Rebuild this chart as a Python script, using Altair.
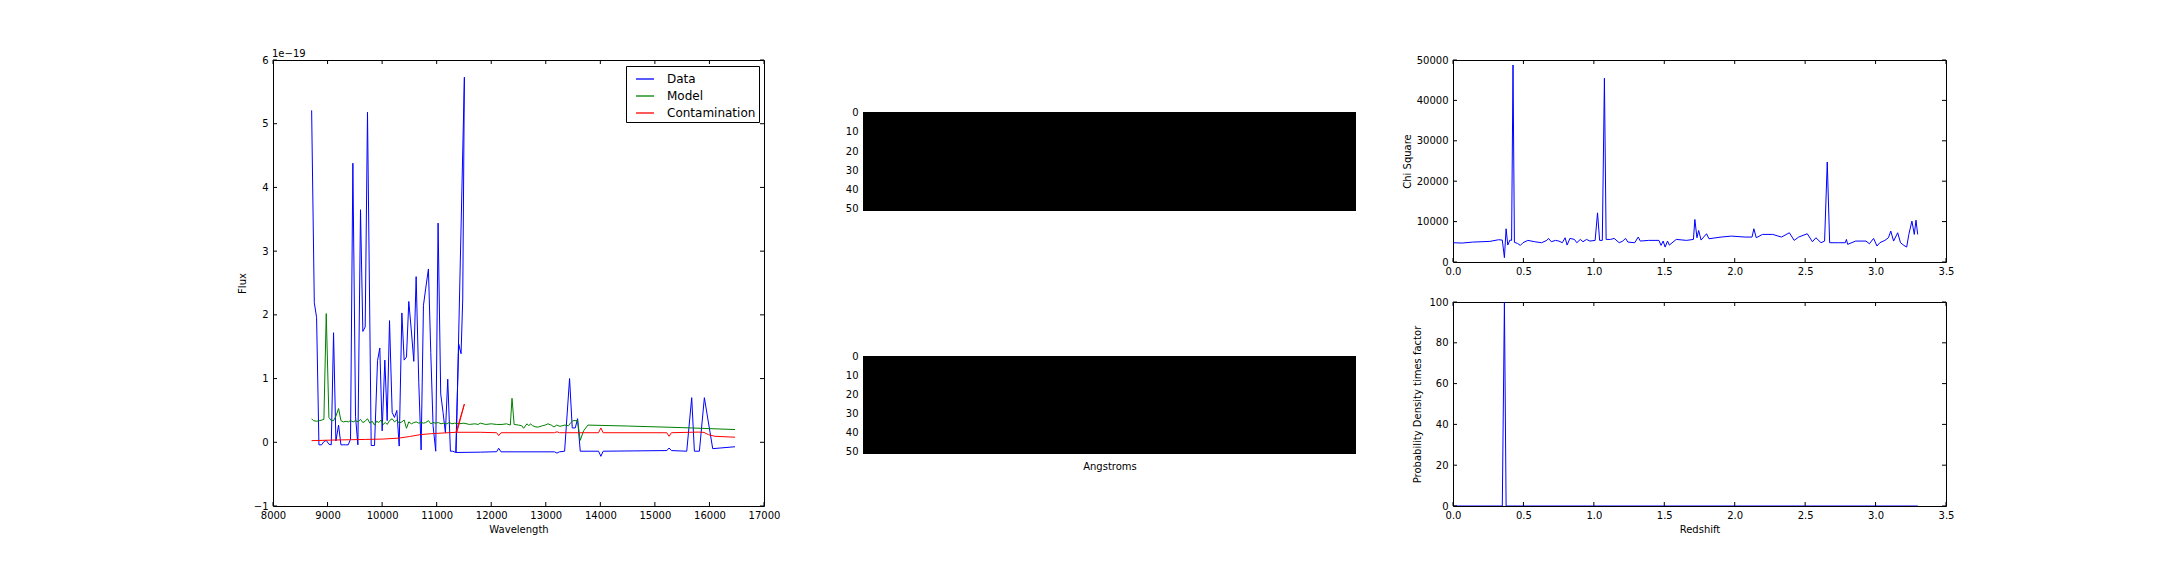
import altair as alt
import pandas as pd

FONT = "DejaVu Sans"

# ---------------- Panel 1: spectrum (drawing order kept) ----------------
DATA_POINTS = [
    (8708, 5.21), (8757, 2.19), (8799, 1.96), (8842, -0.04), (8891, -0.04), (8933, 0.01),
    (8976, 0.03), (9025, -0.03), (9068, -0.04), (9110, 1.72), (9153, 0.02), (9202, 0.27),
    (9245, -0.04), (9287, -0.04), (9330, -0.04), (9379, -0.04), (9421, 0.05), (9464, 4.38),
    (9513, 0.40), (9556, -0.04), (9604, 3.65), (9647, 1.74), (9690, 1.81), (9732, 5.18),
    (9800, -0.05), (9861, -0.05), (9916, 1.28), (9958, 1.48), (10001, 0.18), (10050, 1.29),
    (10093, 0.34), (10136, 1.91), (10184, 0.47), (10227, 0.39), (10270, 0.50), (10313, -0.06),
    (10362, 2.03), (10404, 1.29), (10447, 1.34), (10489, 2.21), (10538, 1.73), (10581, 1.27),
    (10624, 2.60), (10672, 0.94), (10715, -0.12), (10758, 2.15), (10800, 2.42), (10849, 2.72),
    (10892, 1.41), (10934, 0.26), (10983, -0.14), (11026, 3.44), (11074, 0.76), (11117, 0.47),
    (11160, 0.15), (11203, 0.99), (11252, -0.14), (11294, -0.14), (11350, -0.16), (11404, 1.54),
    (11447, 1.39), (11478, 2.25), (11508, 5.73), (11356, -0.16), (11800, -0.155), (12100, -0.148),
    (12137, -0.094), (12180, -0.15), (13160, -0.15), (13205, -0.17), (13250, -0.15), (13345, -0.14),
    (13436, 1.00), (13485, 0.225), (13540, 0.225), (13583, 0.37), (13632, -0.14), (13967, -0.14),
    (14010, -0.22), (14052, -0.14), (15218, -0.13), (15260, -0.09), (15303, -0.13), (15584, -0.14),
    (15675, 0.70), (15724, -0.14), (15816, -0.14), (15907, 0.70), (16060, -0.10), (16469, -0.07),
]

MODEL_POINTS = [
    (8708, 0.37), (8740, 0.34), (8800, 0.33), (8860, 0.34), (8933, 0.36), (8976, 2.02),
    (9025, 0.39), (9068, 0.34), (9110, 0.34), (9153, 0.41), (9202, 0.53), (9245, 0.34),
    (9290, 0.32), (9340, 0.33), (9380, 0.32), (9421, 0.34), (9470, 0.32), (9513, 0.34),
    (9560, 0.32), (9604, 0.36), (9647, 0.31), (9690, 0.33), (9732, 0.37), (9775, 0.30),
    (9820, 0.33), (9861, 0.27), (9900, 0.33), (9940, 0.31), (9980, 0.35), (10020, 0.28),
    (10060, 0.31), (10093, 0.28), (10136, 0.34), (10184, 0.37), (10227, 0.32), (10270, 0.35),
    (10313, 0.30), (10362, 0.32), (10404, 0.35), (10447, 0.22), (10489, 0.32), (10538, 0.29),
    (10581, 0.31), (10624, 0.32), (10672, 0.30), (10715, 0.31), (10760, 0.30), (10800, 0.31),
    (10849, 0.34), (10892, 0.29), (10934, 0.31), (10983, 0.30), (11030, 0.31), (11080, 0.29),
    (11130, 0.30), (11180, 0.29), (11230, 0.31), (11280, 0.29), (11330, 0.30), (11400, 0.29),
    (11500, 0.30), (11600, 0.28), (11700, 0.29), (11760, 0.28), (11800, 0.30), (11900, 0.28),
    (12000, 0.29), (12100, 0.28), (12200, 0.28), (12280, 0.29), (12350, 0.27), (12381, 0.69),
    (12420, 0.28), (12500, 0.27), (12560, 0.26), (12594, 0.22), (12655, 0.29), (12690, 0.26),
    (12720, 0.29), (12760, 0.26), (12820, 0.24), (12869, 0.24), (12940, 0.26), (12990, 0.27),
    (13040, 0.29), (13100, 0.27), (13150, 0.24), (13200, 0.27), (13260, 0.25), (13300, 0.26),
    (13350, 0.27), (13418, 0.26), (13450, 0.30), (13500, 0.34), (13583, 0.34), (13632, 0.03),
    (13693, 0.18), (13772, 0.27), (14500, 0.255), (15500, 0.23), (16469, 0.20),
]

CONTAM_POINTS = [
    (8708, 0.026), (8900, 0.03), (9100, 0.035), (9400, 0.04), (9700, 0.045), (10000, 0.05),
    (10300, 0.065), (10500, 0.09), (10700, 0.12), (10900, 0.135), (11100, 0.145), (11356, 0.157),
    (11508, 0.60), (11370, 0.157), (11800, 0.157), (12100, 0.15), (12137, 0.105), (12180, 0.15),
    (13160, 0.15), (13205, 0.165), (13250, 0.15), (13967, 0.15), (14010, 0.225), (14052, 0.15),
    (15218, 0.15), (15260, 0.094), (15303, 0.15), (15800, 0.16), (15900, 0.155), (15980, 0.12),
    (16102, 0.094), (16469, 0.08),
]

SERIES_NAMES = ["Data", "Model", "Contamination"]
SERIES_COLORS = ["#0000ff", "#008000", "#ff0000"]
WAVE_TICKS = [8000, 9000, 10000, 11000, 12000, 13000, 14000, 15000, 16000, 17000]
FLUX_TICKS = [-1, 0, 1, 2, 3, 4, 5, 6]
OFFSET_TEXT = ["1e\u221219"]

# ---------------- Images (2D spectra, all black) ----------------
IMG_ROWS = 52
IMG_COLS = 150
IMG_VALUE = [0]
IMG_YTICKS = [0, 10, 20, 30, 40, 50]

# ---------------- Chi square vs redshift ----------------
CHI_Z = [0.0, 0.066, 0.14, 0.262, 0.323, 0.35, 0.365, 0.377, 0.389, 0.404, 0.416, 0.426, 0.436,
         0.458, 0.478, 0.497, 0.531, 0.58, 0.629, 0.666, 0.678, 0.698, 0.727, 0.752, 0.776, 0.796,
         0.81, 0.83, 0.862, 0.879, 0.904, 0.923, 0.948, 0.972, 1.009, 1.026, 1.041, 1.06, 1.075,
         1.087, 1.119, 1.144, 1.18, 1.205, 1.225, 1.242, 1.29, 1.315, 1.33, 1.389, 1.462, 1.477,
         1.492, 1.506, 1.523, 1.536, 1.585, 1.658, 1.707, 1.717, 1.732, 1.744, 1.761, 1.8, 1.817,
         1.903, 1.976, 2.074, 2.123, 2.136, 2.153, 2.197, 2.27, 2.332, 2.388, 2.422, 2.454, 2.515,
         2.552, 2.576, 2.613, 2.638, 2.657, 2.674, 2.736, 2.785, 2.793, 2.802, 2.858, 2.932, 2.956,
         2.986, 3.01, 3.03, 3.066, 3.091, 3.108, 3.128, 3.157, 3.177, 3.201, 3.221, 3.236, 3.258,
         3.275, 3.287, 3.299]
CHI_VAL = [4770, 4690, 4930, 5100, 5510, 5430, 1070, 8220, 4190, 5430, 5350, 48770, 4850,
           4600, 4110, 4770, 5350, 5020, 4770, 5350, 5840, 5020, 5350, 5180, 4770, 6000,
           4190, 5840, 5590, 4770, 5590, 5020, 5590, 5180, 5350, 12170, 5350, 5350, 45480,
           5590, 5590, 5840, 4770, 5180, 5840, 4930, 4770, 6170, 5180, 5350, 5350, 4110,
           5180, 3700, 5180, 4190, 5590, 5350, 5590, 10530, 6000, 7810, 5430, 6990, 5760,
           6170, 6410, 6170, 6170, 8220, 6000, 6830, 6830, 6170, 7240, 5350, 6170, 6990,
           5020, 6000, 4770, 5180, 24750, 4770, 4770, 4770, 5590, 4360, 5180, 5180, 4520,
           5840, 3950, 4770, 5350, 6000, 7650, 5180, 7240, 4770, 4110, 3700, 6830, 10120,
           6830, 10360, 6830]

PDF_Z = [0.0, 0.35, 0.365, 0.377, 3.30]
PDF_VAL = [0, 0, 100, 0, 0]

Z_TICKS = [0.0, 0.5, 1.0, 1.5, 2.0, 2.5, 3.0, 3.5]
CHI_TICKS = [0, 10000, 20000, 30000, 40000, 50000]
PDF_TICKS = [0, 20, 40, 60, 80, 100]


def axis(values, title, fmt, title_pad, label_pad=5):
    return alt.Axis(values=values, title=title, format=fmt, ticks=False, domain=False,
                    grid=False, labelPadding=label_pad, titlePadding=title_pad,
                    labelFont=FONT, titleFont=FONT, labelFontSize=10, titleFontSize=10,
                    titleFontWeight="normal", labelColor="black", titleColor="black",
                    labelFlush=False, labelOverlap=False)


def inner_ticks(fx, xvals, xscale, xaxis, fy, yvals, yscale, yaxis, W, H, L=4):
    dx = pd.DataFrame({fx: xvals})
    dy = pd.DataFrame({fy: yvals})
    out = []
    for a, b in ((H, H - L), (0, L)):
        out.append(alt.Chart(dx).mark_rule(color="black", strokeWidth=1).encode(
            x=alt.X(f"{fx}:Q", scale=xscale, axis=xaxis), y=alt.value(a), y2=alt.value(b)))
    for a, b in ((0, L), (W, W - L)):
        out.append(alt.Chart(dy).mark_rule(color="black", strokeWidth=1).encode(
            y=alt.Y(f"{fy}:Q", scale=yscale, axis=yaxis), x=alt.value(a), x2=alt.value(b)))
    return out


noview = alt.ViewBackground(stroke="transparent")


def spacer(w, h):
    return alt.Chart(pd.DataFrame({"a": [0]})).mark_point(opacity=0).properties(
        width=w, height=h, view=noview)


# ---------------- Panel 1 ----------------
W1, H1 = 491, 446
frames = []
for name, pts in zip(SERIES_NAMES, [DATA_POINTS, MODEL_POINTS, CONTAM_POINTS]):
    frames.append(pd.DataFrame({"wave": [p[0] for p in pts], "flux": [p[1] for p in pts],
                                "series": name, "idx": list(range(len(pts)))}))
spec_df = pd.concat(frames, ignore_index=True)

xs1 = alt.Scale(domain=[8000, 17000], nice=False, zero=False)
ys1 = alt.Scale(domain=[-1, 6], nice=False, zero=False)
xa1 = axis(WAVE_TICKS, "Wavelength", "d", 4, 4)
ya1 = axis(FLUX_TICKS, "Flux", "d", 6)

lines1 = alt.Chart(spec_df).mark_line(strokeWidth=1, clip=True).encode(
    x=alt.X("wave:Q", scale=xs1, axis=xa1),
    y=alt.Y("flux:Q", scale=ys1, axis=ya1),
    color=alt.Color("series:N", scale=alt.Scale(domain=SERIES_NAMES, range=SERIES_COLORS),
                    legend=alt.Legend(title=None, orient="none", legendX=353, legendY=6,
                                      strokeColor="black", fillColor="white", padding=3,
                                      symbolType="stroke", symbolSize=324, symbolStrokeWidth=1.3,
                                      labelFont=FONT, labelFontSize=12, labelColor="black",
                                      rowPadding=1, labelOffset=12, symbolOffset=6)),
    order=alt.Order("idx:Q"),
)
offset_txt = alt.Chart(pd.DataFrame({"t": OFFSET_TEXT})).mark_text(
    align="left", baseline="alphabetic", font=FONT, fontSize=10, color="black"
).encode(x=alt.value(-1), y=alt.value(-3), text="t:N")

panel1 = alt.layer(
    lines1, offset_txt,
    *inner_ticks("wave", WAVE_TICKS, xs1, xa1, "flux", FLUX_TICKS, ys1, ya1, W1, H1)
).properties(width=W1, height=H1)

# ---------------- Images ----------------
WI = 493
img_df = pd.DataFrame({"x0": [-0.5], "x1": [IMG_COLS - 0.5], "y0": [-0.5],
                       "y1": [IMG_ROWS - 0.5], "v": IMG_VALUE})
xsi = alt.Scale(domain=[-0.5, IMG_COLS - 0.5], nice=False, zero=False)
ysi = alt.Scale(domain=[-0.5, IMG_ROWS - 0.5], nice=False, zero=False, reverse=True)
yai = alt.Axis(values=IMG_YTICKS, title=None, ticks=False, domain=False, grid=False,
               labelPadding=5, labelFont=FONT, labelFontSize=10, labelColor="black",
               labelOverlap=False, labelFlush=False)


def image(h, xaxis):
    return alt.Chart(img_df).mark_rect(color="black").encode(
        x=alt.X("x0:Q", scale=xsi, axis=xaxis), x2="x1:Q",
        y=alt.Y("y0:Q", scale=ysi, axis=yai), y2="y1:Q",
    ).properties(width=WI, height=h, view=noview)


img1 = image(99, None)
img2 = image(98, alt.Axis(title="Angstroms", labels=False, ticks=False, domain=False,
                          grid=False, titlePadding=7, titleFont=FONT, titleFontSize=10,
                          titleFontWeight="normal", titleColor="black"))
col2 = alt.vconcat(spacer(WI, 52), img1, spacer(WI, 145), img2, spacing=0, bounds="flush")

# ---------------- Chi square & PDF ----------------
W3 = 493
xs3 = alt.Scale(domain=[0, 3.5], nice=False, zero=False)
chi_df = pd.DataFrame({"z": CHI_Z, "chi": CHI_VAL, "idx": list(range(len(CHI_Z)))})
ys3 = alt.Scale(domain=[0, 50000], nice=False, zero=False)
xa3 = axis(Z_TICKS, None, ".1f", 4, 4)
ya3 = axis(CHI_TICKS, "Chi Square", "d", 4)
chi_line = alt.Chart(chi_df).mark_line(strokeWidth=1, color="#0000ff", clip=True).encode(
    x=alt.X("z:Q", scale=xs3, axis=xa3), y=alt.Y("chi:Q", scale=ys3, axis=ya3),
    order=alt.Order("idx:Q"))
panel3 = alt.layer(
    chi_line, *inner_ticks("z", Z_TICKS, xs3, xa3, "chi", CHI_TICKS, ys3, ya3, W3, 202)
).properties(width=W3, height=202)

pdf_df = pd.DataFrame({"z": PDF_Z, "p": PDF_VAL, "idx": list(range(len(PDF_Z)))})
ys4 = alt.Scale(domain=[0, 100], nice=False, zero=False)
xa4 = axis(Z_TICKS, "Redshift", ".1f", 4, 4)
ya4 = axis(PDF_TICKS, "Probability Density times factor", "d", 6)
pdf_line = alt.Chart(pdf_df).mark_line(strokeWidth=1, color="#0000ff", clip=True).encode(
    x=alt.X("z:Q", scale=xs3, axis=xa4), y=alt.Y("p:Q", scale=ys4, axis=ya4),
    order=alt.Order("idx:Q"))
panel4 = alt.layer(
    pdf_line, *inner_ticks("z", Z_TICKS, xs3, xa4, "p", PDF_TICKS, ys4, ya4, W3, 204)
).properties(width=W3, height=204)

col3 = alt.vconcat(panel3, panel4, spacing=40, bounds="flush")

# nested columns count as zero width in a flush layout, so a blank unit keeps the gap
GAP = 99
gap_unit = spacer(1451 - 861 - 2 * GAP, 10)

chart = alt.hconcat(panel1, col2, gap_unit, col3, spacing=GAP, bounds="flush").properties(
    padding={"left": 228, "top": 40, "right": 10, "bottom": 10},
    background="white",
).configure_view(stroke="black", strokeWidth=1)

chart.save("out.html", embed_options={"renderer": "svg", "actions": False})
